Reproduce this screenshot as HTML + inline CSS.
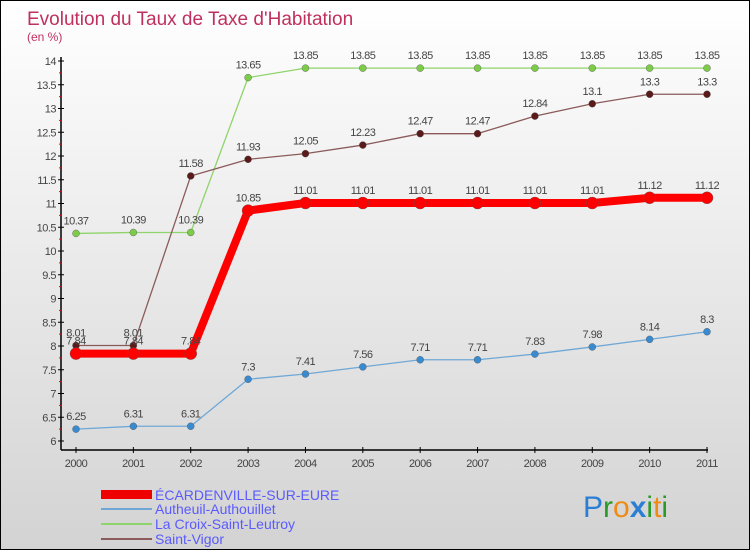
<!DOCTYPE html>
<html><head><meta charset="utf-8"><style>
body{margin:0}
#c{width:750px;height:550px;position:relative;box-sizing:border-box;border:1px solid #000;background:linear-gradient(#fff,#d3d3d3);font-family:"Liberation Sans",sans-serif;overflow:hidden}
</style></head><body>
<div id="c">
<svg id="s" width="748" height="548" xmlns="http://www.w3.org/2000/svg" style="position:absolute;left:0;top:0">
<text x="26" y="24" font-size="19" fill="#c0305f">Evolution du Taux de Taxe d'Habitation</text>
<text x="26" y="40" font-size="12" fill="#c0305f">(en %)</text>
<g id="axes"></g><g id="series"></g>
<g>
<rect x="100" y="489" width="51" height="9" fill="#e00"/>
<text x="154" y="499" font-size="14" fill="#5a5aff">ÉCARDENVILLE-SUR-EURE</text>
<line x1="100" y1="508" x2="151" y2="508" stroke="#6fa8d6" stroke-width="2"/>
<text x="154" y="513" font-size="14" fill="#5a5aff">Autheuil-Authouillet</text>
<line x1="100" y1="523" x2="151" y2="523" stroke="#8fd46a" stroke-width="2"/>
<text x="154" y="528" font-size="14" fill="#5a5aff">La Croix-Saint-Leutroy</text>
<line x1="100" y1="538" x2="151" y2="538" stroke="#8b5a5a" stroke-width="2"/>
<text x="154" y="543" font-size="14" fill="#5a5aff">Saint-Vigor</text>
</g>
<text x="582" y="516" font-size="30"><tspan fill="#2a7fd4">P</tspan><tspan fill="#2a9a2a">r</tspan><tspan fill="#f08a10">o</tspan><tspan fill="#2a7fd4" font-weight="bold">x</tspan><tspan fill="#2a9a2a">i</tspan><tspan fill="#f08a10">t</tspan><tspan fill="#2a9a2a">i</tspan></text>
</svg>
</div>
<script>
const years=[2000,2001,2002,2003,2004,2005,2006,2007,2008,2009,2010,2011];
const ecard=[7.84,7.84,7.84,10.85,11.01,11.01,11.01,11.01,11.01,11.01,11.12,11.12];
const autheuil=[6.25,6.31,6.31,7.3,7.41,7.56,7.71,7.71,7.83,7.98,8.14,8.3];
const lacroix=[10.37,10.39,10.39,13.65,13.85,13.85,13.85,13.85,13.85,13.85,13.85,13.85];
const vigor=[8.01,8.01,11.58,11.93,12.05,12.23,12.47,12.47,12.84,13.1,13.3,13.3];
const yTicks=[6,6.5,7,7.5,8,8.5,9,9.5,10,10.5,11,11.5,12,12.5,13,13.5,14];
const NS="http://www.w3.org/2000/svg";
const xs=i=>75+i*(706-75)/(years.length-1);
const ys=v=>440-(v-6)*(440-60)/8;
function mk(t,a,p){const e=document.createElementNS(NS,t);for(const k in a)e.setAttribute(k,a[k]);p.appendChild(e);return e;}
const ax=document.getElementById('axes');
let e=mk('line',{x1:60,y1:56,x2:60,y2:449,stroke:'#000','stroke-width':1.5},ax);


e=mk('line',{x1:60,y1:449,x2:707,y2:449,stroke:'#000','stroke-width':1.5},ax);


yTicks.forEach((v,i)=>{
  const y=ys(v);
  mk('line',{x1:57,y1:y,x2:63,y2:y,stroke:'#000'},ax);
  if(i<yTicks.length-1) mk('line',{x1:58,y1:(y+ys(yTicks[i+1]))/2,x2:61,y2:(y+ys(yTicks[i+1]))/2,stroke:'#e00'},ax);
  const t=mk('text',{x:55,y:y+4,'font-size':11,'text-anchor':'end',fill:'#444','letter-spacing':'-0.5'},ax);
  t.textContent=String(v);
  
  
});
years.forEach((yr,i)=>{
  const x=xs(i);
  mk('line',{x1:x,y1:446,x2:x,y2:452,stroke:'#000'},ax);
  const t=mk('text',{x:x,y:466,'font-size':11,'text-anchor':'middle',fill:'#444','letter-spacing':'-0.5'},ax);
  t.textContent=String(yr);
  
  
});
const sg=document.getElementById('series');
function series(data,color,w,r,dot,name){
  const g=mk('g',{},sg);
  
  
  const pts=data.map((v,i)=>xs(i)+','+ys(v)).join(' ');
  mk('polyline',{points:pts,fill:'none',stroke:color,'stroke-width':w,'stroke-linejoin':'round'},g);
  data.forEach((v,i)=>{
    const c=mk('circle',{cx:xs(i),cy:ys(v),r:r,fill:dot,stroke:'#555','stroke-width':0.4},g);
    
    
    const t=mk('text',{x:xs(i),y:ys(v)-9,'font-size':11,'text-anchor':'middle',fill:'#444','letter-spacing':'-0.5'},g);
    t.textContent=String(v);
    
    
  });
}
series(autheuil,'#6fa8d6',1.3,3.5,'#3a8ad0','series-autheuil');
series(lacroix,'#8fd46a',1.3,3.5,'#7ccc4a','series-la-croix');
series(vigor,'#8b5a5a',1.3,3.5,'#5a1a1a','series-saint-vigor');
series(ecard,'#f00',8,6,'#f00','series-ecardenville');
</script>
</body></html>
